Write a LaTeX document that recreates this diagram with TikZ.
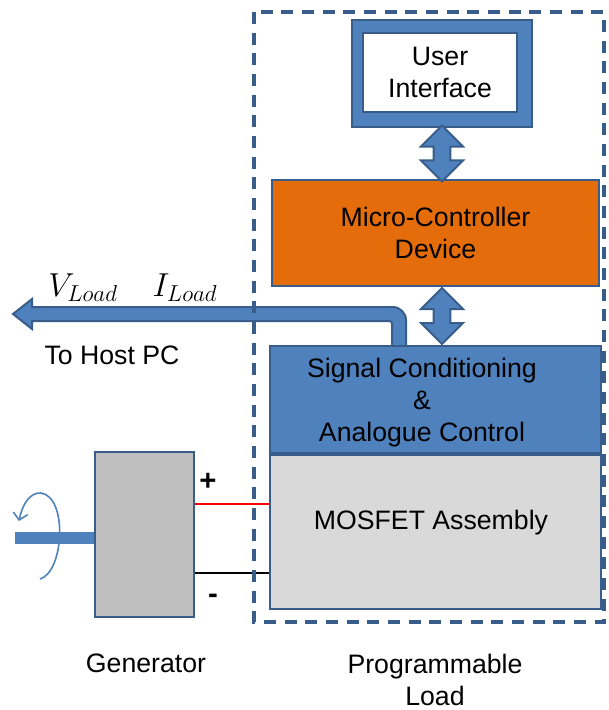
\documentclass[tikz,border=0pt]{standalone}
\usepackage{fontspec}
\setmainfont{Liberation Sans}
\usepackage{tikz}
\usetikzlibrary{arrows.meta, calc, shapes.arrows}
\definecolor{boxblue}{HTML}{4F81BD}
\definecolor{edgeblue}{HTML}{385D8A}
\definecolor{mcuorange}{HTML}{E46C0A}

\begin{document}
\begin{tikzpicture}[x=0.75pt, y=-0.75pt,
  every node/.style={font=\fontsize{20}{24}\selectfont, inner sep=0pt},
  block/.style={draw=edgeblue, line width=1.5pt, align=center},
  dblarrow/.style={double arrow, rotate=90, draw=edgeblue, line width=1.5pt, fill=boxblue,
    inner sep=5.6pt, double arrow head extend=9.4pt, minimum height=42pt},
  hostarrow/.style={draw=edgeblue, line width=1.5pt, fill=boxblue},
  sign/.style={font=\fontsize{22}{24}\selectfont\bfseries}]
\useasboundingbox (0,0) rectangle (608,710);

% load side
\node[block, fill=boxblue, minimum width=135pt, minimum height=80.25pt] (ui) at (442,73.5) {};
\node[block, fill=white, minimum width=115.5pt, minimum height=59.25pt] (uitext) at (440,72.5) {User\\Interface};
\node[block, fill=mcuorange, minimum width=245.25pt, minimum height=79.5pt] (mcu) at (435.5,233) {Micro-Controller\\Device};

% host link (under the boxes)
\coordinate (host) at (13,314);
\coordinate (tap) at (399,346);
\draw[hostarrow] ($(tap)+(7,0)$) [rounded corners=10pt] -- ($(tap |- host)+(7,-7)$) [sharp corners]
  -- ($(host)+(19,-7)$) -- ($(host)+(19,-15)$) -- (host) -- ($(host)+(19,15)$) -- ($(host)+(19,7)$)
  [rounded corners=2pt] -- ($(tap |- host)+(-7,7)$) [sharp corners] -- ($(tap)+(-7,0)$) -- cycle;

\node[block, fill=boxblue, minimum width=248.25pt, minimum height=80.25pt] (sc) at (435.5,399.5) {};
\node[align=center] (sctext) at (422,403) {Signal Conditioning\\\&\\Analogue Control};
\node[block, fill=black!15, minimum width=248.25pt, minimum height=115.5pt, anchor=north] (mos) at (sc.south) {};
\node (mostext) at (431,523) {MOSFET Assembly};

\node[dblarrow] (a1) at ($(ui.south)!0.5!(ui.south |- mcu.north)$) {};
\node[dblarrow] (a2) at ($(ui.south |- mcu.south)!0.5!(ui.south |- sc.north)$) {};

\node[font=\fontsize{24}{26}\selectfont] (vl) at (83,288) {$V_{Load}$};
\node[font=\fontsize{24}{26}\selectfont] (il) at (185,288) {$I_{Load}$};
\node (pc) at (112,355) {To Host PC};

% generator side
\draw[boxblue, line width=1.2pt, -{Straight Barb[length=5pt, width=11pt]}]
  (40,579) .. controls (64,572) and (68,497) .. (41,493) .. controls (30,492) and (22,505) .. (19,521);
\fill[boxblue] (15,532) rectangle (95,544);
\node[block, fill=black!25, minimum width=74.25pt, minimum height=123.75pt] (gen) at (144,534.5) {};
\node (gentext) at (146,663) {Generator};

\coordinate (plus) at ([yshift=22.9pt]gen.east);
\coordinate (minus) at ([yshift=-28.9pt]gen.east);
\draw[red, line width=1.5pt] (plus) -- (plus -| mos.west);
\draw[black, line width=1.5pt] (minus) -- (minus -| mos.west);
\node[sign] (pos) at (208,482) {+};
\node[sign] (neg) at (213,599) {-};

\draw[edgeblue, line width=2.6pt, dash pattern=on 9pt off 6.5pt] (254,12) rectangle (604,622);
\node[align=center] (loadtext) at (435,680) {Programmable\\Load};
\end{tikzpicture}
\end{document}
